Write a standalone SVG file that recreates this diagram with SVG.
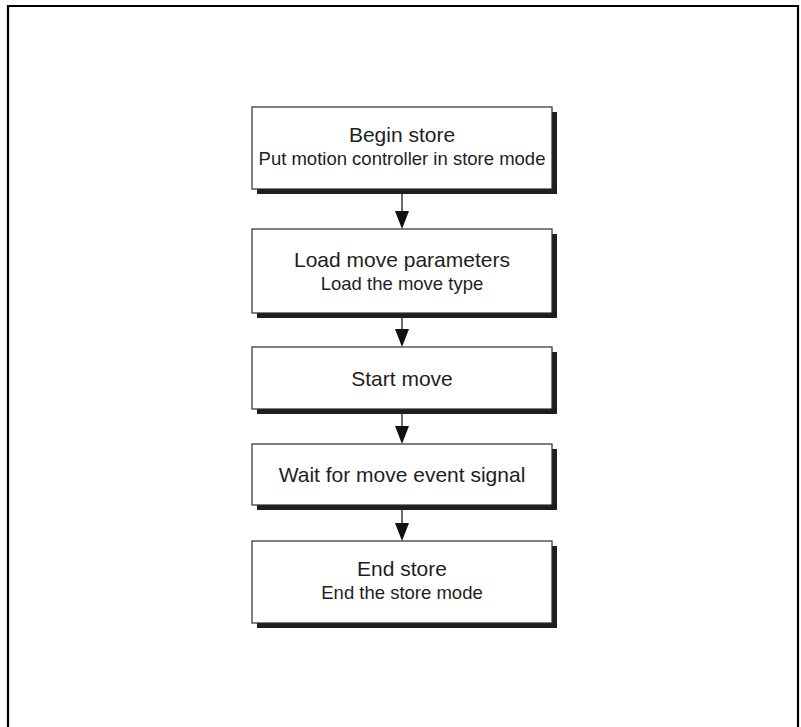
<svg xmlns="http://www.w3.org/2000/svg" width="801" height="727" viewBox="0 0 801 727">
  <defs>
    <style>
      .shadow { fill: #1e1e1e; }
      .box { fill: #ffffff; stroke: #2a2a2a; stroke-width: 1.2; }
      .title { font-family: "Liberation Sans", Arial, Helvetica, sans-serif; font-size: 21px; fill: #1e1e1e; text-anchor: middle; }
      .sub { font-family: "Liberation Sans", Arial, Helvetica, sans-serif; font-size: 18.5px; fill: #1e1e1e; text-anchor: middle; }
      .line { stroke: #444444; stroke-width: 1.6; fill: none; }
      .head { fill: #111111; }
    </style>
  </defs>
  <rect x="0" y="0" width="801" height="727" fill="#ffffff"/>
  <path d="M8,740 V6 H798 V740" fill="none" stroke="#000000" stroke-width="2.2"/>

  <g id="connectors">
    <line class="line" x1="402" y1="193" x2="402" y2="212"/>
    <polygon class="head" points="395,211 409,211 402,229"/>
    <line class="line" x1="402" y1="317" x2="402" y2="330"/>
    <polygon class="head" points="395,329 409,329 402,347"/>
    <line class="line" x1="402" y1="413" x2="402" y2="427"/>
    <polygon class="head" points="395,426 409,426 402,444"/>
    <line class="line" x1="402" y1="509" x2="402" y2="524"/>
    <polygon class="head" points="395,523 409,523 402,541"/>
  </g>

  <g id="begin-store">
    <rect class="shadow" x="257" y="112" width="300" height="82"/>
    <rect class="box" x="252" y="107" width="300" height="82"/>
    <text class="title" x="402" y="142">Begin store</text>
    <text class="sub" x="402" y="164.5">Put motion controller in store mode</text>
  </g>

  <g id="load-move-parameters">
    <rect class="shadow" x="257" y="234" width="300" height="84"/>
    <rect class="box" x="252" y="229" width="300" height="84"/>
    <text class="title" x="402" y="267">Load move parameters</text>
    <text class="sub" x="402" y="289.5">Load the move type</text>
  </g>

  <g id="start-move">
    <rect class="shadow" x="257" y="352" width="300" height="62"/>
    <rect class="box" x="252" y="347" width="300" height="62"/>
    <text class="title" x="402" y="386">Start move</text>
  </g>

  <g id="wait-for-move-event-signal">
    <rect class="shadow" x="257" y="449" width="300" height="61"/>
    <rect class="box" x="252" y="444" width="300" height="61"/>
    <text class="title" x="402" y="482">Wait for move event signal</text>
  </g>

  <g id="end-store">
    <rect class="shadow" x="257" y="546" width="300" height="82"/>
    <rect class="box" x="252" y="541" width="300" height="82"/>
    <text class="title" x="402" y="576">End store</text>
    <text class="sub" x="402" y="598.5">End the store mode</text>
  </g>
</svg>
